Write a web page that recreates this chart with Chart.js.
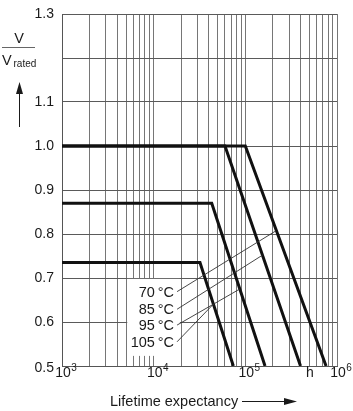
<!DOCTYPE html>
<html lang="en">
<head>
<meta charset="UTF-8">
<title>Lifetime expectancy</title>
<style>
  body { margin: 0; background: #fff; }
  #wrap { width: 353px; height: 411px; }
</style>
</head>
<body>
<div id="wrap"><canvas id="chart" width="353" height="411"></canvas></div>

<script src="https://cdn.jsdelivr.net/npm/chart.js"></script>

<script>
// curves: x = lifetime in hours, y = V / V_rated
const tempLabels = ['70\u2009°C', '85\u2009°C', '95\u2009°C', '105\u2009°C'];
const hours70  = [1e3, 1.0e5, 7.6e5];
const volts70  = [1.0, 1.0, 0.5];
const hours85  = [1e3, 6.0e4, 4.0e5];
const volts85  = [1.0, 1.0, 0.5];
const hours95  = [1e3, 4.3e4, 1.64e5];
const volts95  = [0.87, 0.87, 0.5];
const hours105 = [1e3, 3.2e4, 7.4e4];
const volts105 = [0.735, 0.735, 0.5];

// thin leader lines from the temperature labels to their curves
const leaderFromX = [1.8e4, 1.8e4, 1.8e4, 1.8e4];
const leaderFromY = [0.669, 0.629, 0.593, 0.555];
const leaderToX   = [2.15e5, 1.54e5, 8.7e4, 4.5e4];
const leaderToY   = [0.807, 0.752, 0.675, 0.641];

// axes
const xDecades = [1e3, 1e4, 1e5];
const xSteps = [1, 2, 3, 4, 5, 6, 7, 8, 9];
const xLabelValues = [1e3, 1e4, 1e5, 1e6];
const xLabelExps = ['3', '4', '5', '6'];
const yTicks = [0.5, 0.6, 0.7, 0.8, 0.9, 1.0, 1.1, 1.2, 1.3];
const yTickLabels = ['0.5', '0.6', '0.7', '0.8', '0.9', '1.0', '1.1', '', '1.3'];
const unitLabel = 'h';
const unitAt = 5.05e5;

const FONT = '"Liberation Sans", Arial, Helvetica, sans-serif';
const INK = '#1a1a1a';

function pts(xs, ys) {
  return xs.map((v, i) => ({ x: v, y: ys[i] }));
}

const curves = [
  [hours70, volts70], [hours85, volts85], [hours95, volts95], [hours105, volts105]
];

const datasets = [];
tempLabels.forEach((t, i) => {
  datasets.push({
    label: t + ' leader',
    data: [{ x: leaderFromX[i], y: leaderFromY[i] }, { x: leaderToX[i], y: leaderToY[i] }],
    borderColor: '#333',
    borderWidth: 0.9,
    pointRadius: 0,
    tension: 0
  });
});
curves.forEach((c, i) => {
  datasets.push({
    label: tempLabels[i],
    data: pts(c[0], c[1]),
    borderColor: '#111',
    borderWidth: 3,
    pointRadius: 0,
    tension: 0
  });
});

const decor = {
  id: 'decor',
  beforeDatasetsDraw(chart) {
    const { ctx, scales: { x, y } } = chart;
    // white patch behind the temperature labels
    const l = x.getPixelForValue(5.15e3), r = x.getPixelForValue(1.93e4);
    const t = y.getPixelForValue(0.698), b = y.getPixelForValue(0.523);
    ctx.save();
    ctx.fillStyle = '#fff';
    ctx.fillRect(l, t, r - l, b - t);
    ctx.restore();
  },
  afterDraw(chart) {
    const { ctx, chartArea: a, scales: { x, y } } = chart;
    ctx.save();
    ctx.fillStyle = INK;
    ctx.strokeStyle = INK;

    // y tick labels
    ctx.font = '14px ' + FONT;
    ctx.textAlign = 'right';
    ctx.textBaseline = 'middle';
    yTicks.forEach((v, i) => {
      if (!yTickLabels[i]) return;
      const py = y.getPixelForValue(v) + (i === 0 ? 2 : 0);
      ctx.fillText(yTickLabels[i], a.left - 8, py);
    });

    // x tick labels 10^n
    ctx.textBaseline = 'alphabetic';
    xLabelValues.forEach((v, i) => {
      const px = x.getPixelForValue(v) + 1;
      ctx.font = '14px ' + FONT;
      ctx.textAlign = 'center';
      ctx.fillText('10', px, a.bottom + 11);
      const w = ctx.measureText('10').width;
      ctx.font = '10px ' + FONT;
      ctx.textAlign = 'left';
      ctx.fillText(xLabelExps[i], px + w / 2 + 0.5, a.bottom + 5);
    });
    ctx.font = '14px ' + FONT;
    ctx.textAlign = 'center';
    ctx.fillText(unitLabel, x.getPixelForValue(unitAt), a.bottom + 11);

    // temperature labels
    ctx.font = '14.5px ' + FONT;
    ctx.textAlign = 'right';
    ctx.textBaseline = 'middle';
    tempLabels.forEach((t, i) => {
      ctx.fillText(t, x.getPixelForValue(leaderFromX[i]) - 3, y.getPixelForValue(leaderFromY[i]) + 1);
    });

    // y axis title: V / V_rated with arrow
    ctx.font = '14.5px ' + FONT;
    ctx.textAlign = 'center';
    ctx.textBaseline = 'alphabetic';
    ctx.fillText('V', 19, 43);
    ctx.lineWidth = 1;
    ctx.strokeStyle = '#666';
    ctx.beginPath();
    ctx.moveTo(2, 47.5);
    ctx.lineTo(35, 47.5);
    ctx.stroke();
    ctx.textAlign = 'left';
    ctx.fillText('V', 2, 65);
    ctx.font = '10px ' + FONT;
    ctx.fillText('rated', 13.5, 67);
    ctx.strokeStyle = INK;
    ctx.beginPath();
    ctx.moveTo(19.5, 127);
    ctx.lineTo(19.5, 92);
    ctx.stroke();
    ctx.beginPath();
    ctx.moveTo(19.5, 82);
    ctx.lineTo(23, 94);
    ctx.lineTo(16, 94);
    ctx.closePath();
    ctx.fill();

    // x axis title with arrow
    ctx.font = '14.5px ' + FONT;
    ctx.textAlign = 'left';
    ctx.textBaseline = 'middle';
    ctx.fillText('Lifetime expectancy', 110, 402);
    ctx.beginPath();
    ctx.moveTo(242, 401.5);
    ctx.lineTo(286, 401.5);
    ctx.stroke();
    ctx.beginPath();
    ctx.moveTo(297, 401.5);
    ctx.lineTo(284, 398);
    ctx.lineTo(284, 405);
    ctx.closePath();
    ctx.fill();
    ctx.restore();
  }
};

new Chart(document.getElementById('chart'), {
  type: 'line',
  data: { datasets },
  options: {
    responsive: false,
    animation: false,
    events: [],
    layout: { padding: { left: 62, right: 16, top: 14, bottom: 45 } },
    plugins: { legend: { display: false }, tooltip: { enabled: false } },
    scales: {
      x: {
        type: 'logarithmic',
        min: 1e3,
        max: 1e6,
        afterBuildTicks(scale) {
          const ticks = [];
          xDecades.forEach(d => xSteps.forEach(s => ticks.push({ value: d * s })));
          ticks.push({ value: 1e6 });
          scale.ticks = ticks;
        },
        ticks: { display: false },
        grid: { color: '#767676', lineWidth: 1, drawTicks: false },
        border: { color: '#555', width: 1 }
      },
      y: {
        type: 'linear',
        min: 0.5,
        max: 1.3,
        afterBuildTicks(scale) {
          scale.ticks = yTicks.map(v => ({ value: v }));
        },
        ticks: { display: false },
        grid: { color: '#5a5a5a', lineWidth: 1, drawTicks: false },
        border: { color: '#555', width: 1 }
      }
    }
  },
  plugins: [decor]
});
</script>
</body>
</html>
